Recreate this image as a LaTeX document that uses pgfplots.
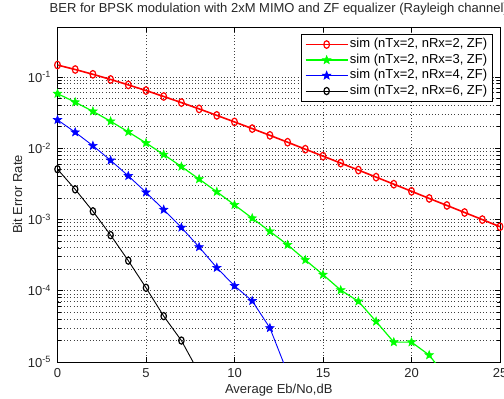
\documentclass[border=0pt]{standalone}
\usepackage{pgfplots}
\pgfplotsset{compat=1.18}
\usepackage{fontspec}
\setmainfont{Liberation Sans}
\usetikzlibrary{plotmarks}
\newcommand\mf{\fontsize{13}{15}\selectfont}
\pgfdeclareplotmark{pentagram}{%
  \pgfpathmoveto{\pgfpointpolar{90}{\pgfplotmarksize}}%
  \pgfpathlineto{\pgfpointpolar{126}{0.42\pgfplotmarksize}}%
  \pgfpathlineto{\pgfpointpolar{162}{\pgfplotmarksize}}%
  \pgfpathlineto{\pgfpointpolar{198}{0.42\pgfplotmarksize}}%
  \pgfpathlineto{\pgfpointpolar{234}{\pgfplotmarksize}}%
  \pgfpathlineto{\pgfpointpolar{270}{0.42\pgfplotmarksize}}%
  \pgfpathlineto{\pgfpointpolar{306}{\pgfplotmarksize}}%
  \pgfpathlineto{\pgfpointpolar{342}{0.42\pgfplotmarksize}}%
  \pgfpathlineto{\pgfpointpolar{18}{\pgfplotmarksize}}%
  \pgfpathlineto{\pgfpointpolar{54}{0.42\pgfplotmarksize}}%
  \pgfpathclose\pgfusepathqfillstroke}
\begin{document}
\begin{tikzpicture}
\begin{semilogyaxis}[
  scale only axis, width=442.5pt, height=335pt,
  xmin=0, xmax=25, ymin=1e-5, ymax=0.5,
  xtick={0,5,10,15,20,25}, xticklabels={0,5,10,15,20,25},
  ytick={1e-5,1e-4,1e-3,1e-2,1e-1},
  yticklabels={10\textsuperscript{-5},10\textsuperscript{-4},10\textsuperscript{-3},10\textsuperscript{-2},10\textsuperscript{-1}},
  tick label style={font=\mf, text=black!85},
  xticklabel style={anchor=center, yshift=-11pt},
  yticklabel style={anchor=east, xshift=-3pt},
  tick align=inside, major tick length=5pt, minor tick length=3pt,
  every tick/.style={black, line width=0.5pt},
  axis line style={black, line width=0.7pt},
  xmajorgrids, ymajorgrids, yminorgrids,
  grid style={black!75, line width=0.6pt, dash pattern=on 0.8pt off 2.4pt},
  title={BER for BPSK modulation with 2xM MIMO and ZF equalizer (Rayleigh channel)},
  title style={font=\mf, text=black!85, at={(0.5,1)}, anchor=base, yshift=8pt},
  xlabel={Average Eb/No,dB},
  xlabel style={font=\mf, text=black!85, at={(axis description cs:0.5,-0.0836)}, anchor=center},
  ylabel={Bit Error Rate},
  ylabel style={font=\mf, text=black!85, at={(axis description cs:-0.0904,0.5)}, anchor=center},
  legend style={font=\mf, at={(axis description cs:1,1)}, anchor=north east,
    xshift=-7pt, yshift=-7pt, draw=black, line width=0.6pt, fill=white,
    row sep=0pt, inner xsep=4pt, inner ysep=2.5pt,
    nodes={inner sep=1.5pt, text height=9.5pt, text depth=3pt}},
  legend cell align=left,
  legend image code/.code={\draw[mark repeat=2,mark phase=2] plot coordinates {(0pt,0pt)(21pt,0pt)(42pt,0pt)};},
]
\addplot[red, line width=1.6pt, mark=o, mark size=3.8pt, mark options={xscale=0.75, line width=1.2pt}]
coordinates {(0,0.1464)(1,0.1267)(2,0.1085)(3,0.0919)(4,0.0771)(5,0.0642)(6,0.0530)(7,0.0435)(8,0.0355)(9,0.0288)(10,0.0233)(11,0.0188)(12,0.0151)(13,0.0121)(14,0.00966)(15,0.00772)(16,0.00617)(17,0.00492)(18,0.00392)(19,0.00312)(20,0.00248)(21,0.00197)(22,0.00157)(23,0.00125)(24,0.000994)(25,0.000790)};
\addlegendentry{sim (nTx=2, nRx=2, ZF)}
\addplot[green, line width=1.2pt, mark=pentagram, mark size=4.4pt, mark options={fill=green, line width=0.6pt}]
coordinates {(0,0.0581)(1,0.0441)(2,0.0328)(3,0.0238)(4,0.0169)(5,0.0118)(6,0.00813)(7,0.00551)(8,0.00368)(9,0.00244)(10,0.00160)(11,0.00104)(12,0.00068)(13,0.00044)(14,0.00027)(15,0.000168)(16,0.000102)(17,7.1e-5)(18,3.7e-5)(19,1.9e-5)(20,1.9e-5)(21,1.25e-5)(22,6e-6)};
\addlegendentry{sim (nTx=2, nRx=3, ZF)}
\addplot[blue, line width=0.9pt, mark=pentagram, mark size=4.4pt, mark options={fill=blue, line width=0.6pt}]
coordinates {(0,0.0249)(1,0.0167)(2,0.0108)(3,0.00674)(4,0.00408)(5,0.00240)(6,0.00137)(7,0.00077)(8,0.00041)(9,0.00021)(10,0.000117)(11,7.2e-5)(12,3.0e-5)(13,7e-6)};
\addlegendentry{sim (nTx=2, nRx=4, ZF)}
\addplot[black, line width=0.9pt, mark=o, mark size=3.6pt, mark options={xscale=0.75, line width=1.2pt}]
coordinates {(0,0.00506)(1,0.00264)(2,0.00130)(3,0.000602)(4,0.000264)(5,0.000110)(6,4.4e-5)(7,2.0e-5)(8,7e-6)};
\addlegendentry{sim (nTx=2, nRx=6, ZF)}
\path (rel axis cs:0,0) coordinate (sw) (rel axis cs:1,1) coordinate (ne);
\end{semilogyaxis}
\pgfresetboundingbox
\path[use as bounding box] ([xshift=-57.5pt,yshift=-36pt]sw) rectangle ([xshift=4pt,yshift=27pt]ne);
\end{tikzpicture}
\end{document}
